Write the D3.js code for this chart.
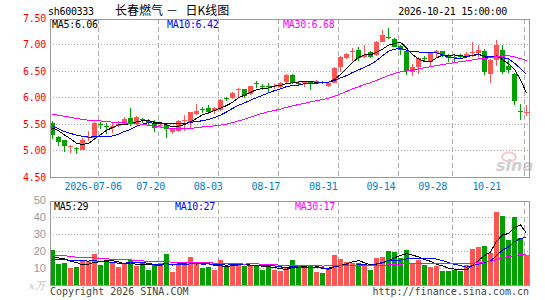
<!DOCTYPE html>
<html>
<head>
<meta charset="utf-8">
<script src="https://cdn.jsdelivr.net/npm/d3@7/dist/d3.min.js"></script>
<style>
body { margin: 0; background: #fff; }
svg { display: block; }
.mono { font-family: "DejaVu Sans Mono", monospace; font-size: 10px; letter-spacing: -0.3px; }
</style>
</head>
<body>
<svg id="chart" width="545" height="300"></svg>
<script>
// ---- data ----
var holidays = ['2026-09-25', '2026-10-01', '2026-10-02', '2026-10-05', '2026-10-06', '2026-10-07'];

var opens  = [5.52,5.27,5.20,5.09,5.05,5.02,5.24,5.25,5.50,5.46, 5.43,5.47,5.50,5.61,5.50,5.60,5.57,5.50,5.46,5.49,
              5.35,5.38,5.56,5.55,5.69,5.79,5.80,5.75,5.77,6.00, 5.99,6.14,6.16,6.07,6.27,6.22,6.22,6.20,6.21,6.30,
              6.42,6.28,6.28,6.29,6.26,6.29,6.22,6.28,6.58,6.74, 6.86,6.89,6.77,6.86,6.80,7.05,7.15,7.11,6.97,6.87,
              6.49,6.57,6.74,6.68,6.84,6.87,6.80,6.77,6.79,6.77, 6.84,6.84,6.87,6.44,6.71,6.90,6.60,6.45,5.76,5.72];
var highs  = [5.56,5.28,5.21,5.12,5.08,5.25,5.37,5.55,5.55,5.52, 5.52,5.57,5.63,5.81,5.65,5.62,5.60,5.58,5.52,5.51,
              5.44,5.58,5.67,5.74,5.88,5.83,5.86,5.82,5.97,6.02, 6.10,6.19,6.17,6.23,6.31,6.26,6.27,6.26,6.29,6.44,
              6.45,6.31,6.32,6.32,6.33,6.31,6.29,6.57,6.78,6.85, 6.94,6.96,7.00,6.88,7.06,7.27,7.31,7.12,6.99,6.88,
              6.63,6.76,6.79,6.86,6.89,6.88,6.83,6.82,6.82,6.86, 7.05,7.00,6.91,6.72,7.09,6.99,6.74,6.46,5.89,5.87];
var lows   = [5.22,5.10,4.98,4.97,4.95,5.01,5.18,5.25,5.42,5.32, 5.33,5.45,5.48,5.46,5.48,5.53,5.49,5.35,5.44,5.25,
              5.32,5.36,5.37,5.43,5.67,5.72,5.70,5.70,5.76,5.93, 5.97,6.00,5.99,6.05,6.19,6.15,6.11,6.16,6.19,6.28,
              6.25,6.22,6.20,6.15,6.25,6.25,6.20,6.27,6.48,6.72, 6.70,6.70,6.74,6.75,6.78,7.04,7.11,6.95,6.80,6.43,
              6.40,6.44,6.67,6.60,6.75,6.76,6.68,6.68,6.72,6.74, 6.77,6.77,6.42,6.27,6.60,6.44,6.46,5.86,5.58,5.65];
var closes = [5.30,5.17,5.10,5.10,5.04,5.20,5.26,5.53,5.49,5.45, 5.47,5.51,5.60,5.51,5.64,5.59,5.52,5.43,5.49,5.42,
              5.42,5.56,5.58,5.73,5.76,5.78,5.73,5.80,5.96,5.99, 6.09,6.16,6.04,6.22,6.25,6.21,6.20,6.22,6.27,6.43,
              6.28,6.27,6.29,6.28,6.31,6.28,6.28,6.56,6.77,6.83, 6.88,6.75,6.81,6.77,7.05,7.18,7.14,6.96,6.89,6.50,
              6.57,6.74,6.72,6.85,6.88,6.79,6.75,6.76,6.77,6.83, 6.86,6.90,6.48,6.71,7.00,6.49,6.52,5.94,5.75,5.73];
var volumes = [20.6,12.2,12.7,10.0,10.4,14.1,14.1,18.0,11.6,14.9, 12.7,10.6,12.2,14.5,11.0,13.1,8.6,11.8,12.7,18.0,
               7.5,12.5,12.5,16.3,12.7,10.0,10.4,8.6,14.5,11.4, 11.8,12.7,11.0,11.4,11.6,8.6,11.0,8.6,8.0,9.8,
               14.5,11.2,10.6,11.6,7.6,7.3,9.4,17.5,15.1,13.3, 12.7,13.1,11.4,8.6,15.7,16.5,19.8,19.2,16.1,20.4,
               12.2,14.9,11.6,10.6,11.2,8.0,8.0,8.8,8.4,11.8, 21.0,22.4,22.7,19.0,42.9,40.4,26.3,39.8,27.5,17.6];

// history before the first visible day (only feeds the moving averages)
var prevCloses  = [5.62,5.66,5.70,5.68,5.74,5.78,5.72,5.70,5.76,5.80,5.76,5.74,5.77,
                   5.85,5.95,6.02,5.98,5.94,5.90,5.83, 5.72,5.60,5.45,5.40,5.38, 5.42,5.50,5.46,5.47];
var prevVolumes = [16,18,22,25,20,17,19,21,24,18,16,15,19,22,20,17,16,18,15,16,
                   14.5,13,12.5,14,13.5, 16.2,15,17.5,14.2];

var maPeriods = [5, 10, 30];
var maColors = ['#000000', '#0000ff', '#ff00ff'];
var priceMaText = ['6.06', '6.42', '6.68'];
var volMaText = ['29', '27', '17'];

var tickDates  = ['2026-07-06','2026-07-20','2026-08-03','2026-08-17','2026-08-31','2026-09-14','2026-09-28','2026-10-21'];
var tickLabels = ['2026-07-06','07-20','08-03','08-17','08-31','09-14','09-28','10-21'];
var priceTicks = [4.5, 5.0, 5.5, 6.0, 6.5, 7.0, 7.5];
var volTicks = [10, 20, 30, 40, 50];

var upColor = '#ff5555', downColor = '#00a000';

// ---- scales ----
var fmt = d3.utcFormat('%Y-%m-%d');
var days = d3.utcDay.range(new Date(Date.UTC(2026, 5, 24)), new Date(Date.UTC(2026, 9, 22)))
  .filter(d => d.getUTCDay() % 6 !== 0 && holidays.indexOf(fmt(d)) < 0)
  .map(fmt);

var left = 50, right = 530;
var pTop = 19, pBot = 177, vTop = 201, vBot = 285;

var x = d3.scaleBand().domain(days).range([left, right]);
var y = d3.scaleLinear().domain([4.5, 7.5]).range([177.5, 18]);
var yv = d3.scaleLinear().domain([0, 50]).range([285, 200]);

var svg = d3.select('#chart');

function movingAvg(hist, vals, n) {
  var all = hist.concat(vals);
  var off = hist.length;
  return vals.map((v, i) => d3.mean(all.slice(off + i - n + 1, off + i + 1)));
}

// ---- grids ----
var grid = svg.append('g');
[[pTop, pBot], [vTop, vBot]].forEach(r => {
  grid.selectAll(null).data(tickDates).enter().append('line')
    .attr('x1', d => x(d) + 0.5).attr('x2', d => x(d) + 0.5)
    .attr('y1', r[0]).attr('y2', r[1])
    .attr('stroke', '#aaa').attr('stroke-dasharray', '5,3');
});
grid.selectAll(null).data(priceTicks.slice(1, -1)).enter().append('line')
  .attr('x1', left).attr('x2', right)
  .attr('y1', d => Math.floor(y(d)) + 0.5).attr('y2', d => Math.floor(y(d)) + 0.5)
  .attr('stroke', '#aaa').attr('stroke-dasharray', '1,2');
grid.selectAll(null).data(volTicks.slice(0, -1)).enter().append('line')
  .attr('x1', left).attr('x2', right)
  .attr('y1', d => Math.floor(yv(d)) + 0.5).attr('y2', d => Math.floor(yv(d)) + 0.5)
  .attr('stroke', '#aaa').attr('stroke-dasharray', '1,2');

// watermark
var wm = svg.append('g').attr('opacity', 0.55);
wm.append('ellipse').attr('cx', 509).attr('cy', 157).attr('rx', 7).attr('ry', 4.5)
  .attr('fill', 'none').attr('stroke', '#f0a0a0').attr('stroke-width', 2);
wm.append('text').attr('x', 496).attr('y', 171)
  .style('font-family', 'DejaVu Sans').style('font-size', '16px')
  .style('font-style', 'italic').style('font-weight', 'bold')
  .attr('fill', '#aaa').text('sina');

// ---- candles ----
var idx = d3.range(days.length);
var candles = svg.append('g');
candles.selectAll('.wick').data(idx).enter().append('rect')
  .attr('x', i => x(days[i]) + 2)
  .attr('width', 1)
  .attr('y', i => Math.round(y(highs[i])))
  .attr('height', i => Math.max(1, Math.round(y(lows[i])) - Math.round(y(highs[i]))))
  .attr('fill', i => closes[i] >= opens[i] ? upColor : downColor);
candles.selectAll('.body').data(idx).enter().append('rect')
  .attr('x', i => x(days[i]))
  .attr('width', x.bandwidth() - 1)
  .attr('y', i => Math.round(y(Math.max(opens[i], closes[i]))))
  .attr('height', i => Math.max(1, Math.round(y(Math.min(opens[i], closes[i]))) - Math.round(y(Math.max(opens[i], closes[i])))))
  .attr('fill', i => closes[i] >= opens[i] ? upColor : downColor);

// ---- volume bars ----
svg.append('g').selectAll('rect').data(idx).enter().append('rect')
  .attr('x', i => x(days[i]))
  .attr('width', x.bandwidth() - 1)
  .attr('y', i => Math.round(yv(volumes[i])))
  .attr('height', i => vBot - Math.round(yv(volumes[i])))
  .attr('fill', i => closes[i] >= opens[i] ? upColor : downColor);

// ---- moving averages ----
maPeriods.forEach((n, k) => {
  var pm = movingAvg(prevCloses, closes, n);
  var vm = movingAvg(prevVolumes, volumes, n);
  svg.append('path')
    .attr('d', d3.line().x(i => x(days[i]) + 2.5).y(i => y(pm[i]))(idx))
    .attr('fill', 'none').attr('stroke', maColors[k]).attr('stroke-width', 1)
    .attr('shape-rendering', 'crispEdges');
  svg.append('path')
    .attr('d', d3.line().x(i => x(days[i]) + 2.5).y(i => yv(vm[i]))(idx))
    .attr('fill', 'none').attr('stroke', maColors[k]).attr('stroke-width', 1)
    .attr('shape-rendering', 'crispEdges');
});

// ---- frames ----
[[pTop, pBot], [vTop, vBot]].forEach(r => {
  svg.append('rect')
    .attr('x', left + 0.5).attr('y', r[0] + 0.5)
    .attr('width', right - left - 1).attr('height', r[1] - r[0])
    .attr('fill', 'none').attr('stroke', '#999');
});

// ---- axis labels ----
svg.selectAll('.pt').data(priceTicks).enter().append('text')
  .attr('class', 'mono')
  .attr('x', 46).attr('y', d => y(d) + 3.5)
  .attr('text-anchor', 'end').attr('fill', '#ff0000')
  .text(d3.format('.2f'));

svg.selectAll('.vt').data(volTicks).enter().append('text')
  .attr('x', 46).attr('y', d => yv(d) + 4)
  .attr('text-anchor', 'end').attr('fill', '#999')
  .style('font-family', 'Liberation Sans, sans-serif').style('font-size', '11px')
  .text(d => d);

svg.append('text').attr('x', 29).attr('y', 289)
  .attr('fill', '#bbb')
  .style('font-family', 'DejaVu Serif, serif').style('font-size', '10px').style('font-style', 'italic')
  .text('x万');

var lx = d3.scaleLinear().domain([0, days.length - 1]).range([47, 501.7]);
var xl = svg.selectAll('.xt').data(tickDates).enter().append('text')
  .attr('class', 'mono')
  .attr('y', 190)
  .attr('text-anchor', 'middle').attr('fill', '#0080d0')
  .text((d, i) => tickLabels[i]);
xl.attr('x', function (d) {
  var w = this.getComputedTextLength();
  return Math.min(lx(days.indexOf(d)), 501 - w / 2);
});

// ---- header / legends ----
svg.append('text').attr('class', 'mono').attr('x', 48).attr('y', 15).attr('fill', '#000').text('sh600333');
var title = svg.append('text').attr('y', 15).attr('fill', '#000')
  .style('font-family', '"Noto Sans CJK SC", sans-serif').style('font-size', '12px');
title.append('tspan').attr('x', 115).text('长春燃气');
title.append('tspan').attr('x', 166).text('－');
title.append('tspan').attr('x', 185.5).text('日K线图');
svg.append('text').attr('class', 'mono').attr('x', 507).attr('y', 15)
  .attr('text-anchor', 'end').attr('fill', '#000').text('2026-10-21 15:00:00');

var priceLegendX = [52, 167, 283];
var volLegendX = [54, 175, 295];
maPeriods.forEach((n, k) => {
  svg.append('text').attr('class', 'mono').attr('x', priceLegendX[k]).attr('y', 27.5)
    .attr('fill', maColors[k]).text('MA' + n + ':' + priceMaText[k]);
  svg.append('text').attr('class', 'mono').attr('x', volLegendX[k]).attr('y', 210)
    .attr('fill', maColors[k]).text('MA' + n + ':' + volMaText[k]);
});

svg.append('text').attr('x', 50).attr('y', 295).attr('fill', '#444')
  .style('font-family', '"DejaVu Sans Mono", monospace').style('font-size', '10px')
  .text('Copyright 2026 SINA.COM');
svg.append('text').attr('x', 529).attr('y', 295).attr('text-anchor', 'end').attr('fill', '#444')
  .style('font-family', '"DejaVu Sans Mono", monospace').style('font-size', '10px')
  .text('http://finance.sina.com.cn');
</script>
</body>
</html>
